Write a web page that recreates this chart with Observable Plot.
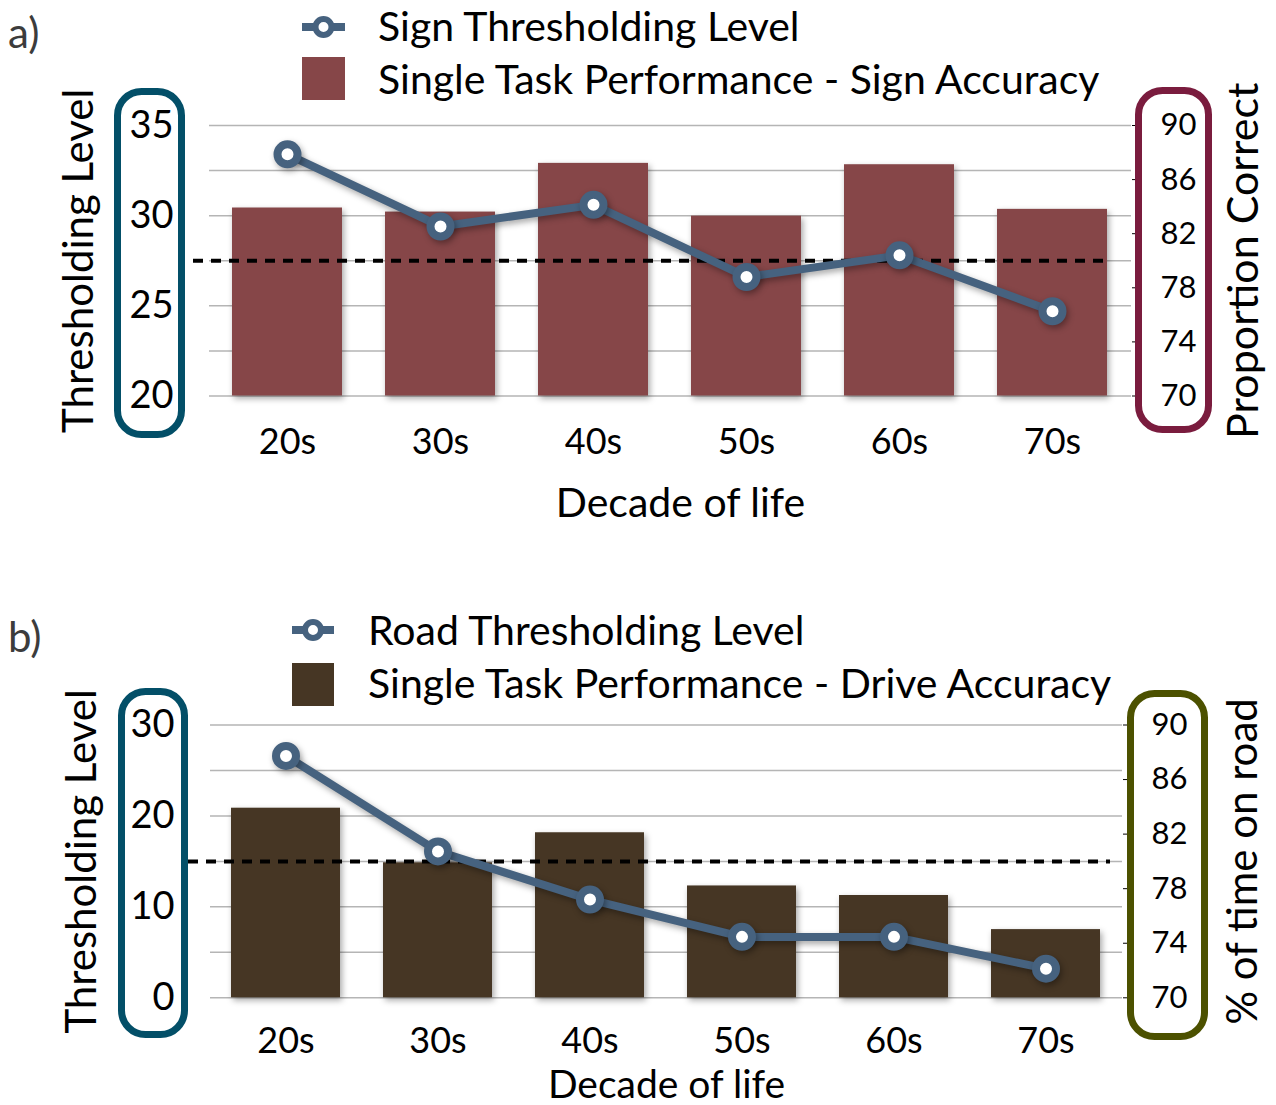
<!DOCTYPE html>
<html>
<head>
<meta charset="utf-8">
<script src="https://cdn.jsdelivr.net/npm/d3@7"></script>
<script src="https://cdn.jsdelivr.net/npm/@observablehq/plot@0.6"></script>
<style>
  body { margin: 0; background: #fff; }
  #root { position: relative; width: 1276px; height: 1105px; font-family: Lato, sans-serif; overflow: hidden; }
  #root > svg { position: absolute; left: 0; }
  #overlay { top: 0; pointer-events: none; }
  g[aria-label="bar"], g[aria-label="line"], g[aria-label="dot"] { filter: drop-shadow(2px 3px 3px rgba(0,0,0,0.35)); }
</style>
</head>
<body>
<div id="root"></div>
<script>
// ---- data ----
const decades = ["20s", "30s", "40s", "50s", "60s", "70s"];
// panel a
const signThreshold = [33.4, 29.4, 30.6, 26.6, 27.8, 24.7];      // left axis (Thresholding Level)
const signAccuracy  = [83.9, 83.6, 87.2, 83.3, 87.1, 83.8];      // right axis (Proportion Correct)
// panel b
const roadThreshold = [26.6, 16.1, 10.8, 6.7, 6.7, 3.2];         // left axis (Thresholding Level)
const driveAccuracy = [83.9, 79.9, 82.1, 78.2, 77.5, 75.0];      // right axis (% of time on road)
const referenceLevel = 80;                                       // dashed line, right axis units
const leftTicksA = [20, 25, 30, 35];
const gridTicksA = [20, 22.5, 25, 27.5, 30, 32.5, 35];
const leftTicksB = [0, 10, 20, 30];
const gridTicksB = [0, 5, 10, 15, 20, 25, 30];
const rightTicks = [70, 74, 78, 82, 86, 90];

const W = 1276;
const LINE = "#46627f";

function panel(o) {
  const [L0, L1] = o.leftDomain, [R0, R1] = o.rightDomain;
  const toLeft = v => L0 + (v - R0) * (L1 - L0) / (R1 - R0);
  const fromLeft = v => R0 + (v - L0) * (R1 - R0) / (L1 - L0);
  const rows = decades.map((d, i) => ({decade: d, thr: o.thr[i], acc: o.acc[i]}));
  const svg = Plot.plot({
    width: W,
    height: o.height,
    marginTop: o.frame.top - o.top,
    marginBottom: o.top + o.height - o.frame.bottom,
    marginLeft: o.frame.left,
    marginRight: W - o.frame.right,
    style: {fontFamily: "Lato, sans-serif", color: "#000", background: "transparent", overflow: "visible"},
    x: {domain: decades, paddingInner: 0.28, paddingOuter: 0.14},
    y: {domain: o.leftDomain},
    marks: [
      Plot.gridY(o.gridTicks, {stroke: "#b5b5b5", strokeOpacity: 1, strokeWidth: 1.5}),
      Plot.barY(rows, {x: "decade", y1: L0, y2: d => toLeft(d.acc), fill: o.barColor}),
      Plot.ruleY([toLeft(referenceLevel)], {stroke: "#000", strokeWidth: 4, strokeDasharray: "10,8", insetLeft: o.dashInsetLeft, insetRight: o.dashInsetRight}),
      Plot.line(rows, {x: "decade", y: "thr", stroke: LINE, strokeWidth: 8}),
      Plot.dot(rows, {x: "decade", y: "thr", r: 10, fill: "white", stroke: LINE, strokeWidth: 8}),
      Plot.axisY({anchor: "left", ticks: o.leftTicks, tickSize: 0, tickPadding: 36, fontSize: 38, label: null}),
      Plot.axisY({anchor: "right", ticks: rightTicks.map(toLeft), tickFormat: d => Math.round(fromLeft(d)), tickSize: 7, tickPadding: 22, fontSize: 31, label: null}),
      Plot.axisX({tickSize: 0, tickPadding: o.xTickPad, fontSize: 36, label: null}),
      Plot.text([o.leftTitle], {text: d => d, frameAnchor: "left", textAnchor: "middle", lineAnchor: "middle", rotate: -90, dx: o.leftTitleDx, fontSize: 42}),
      Plot.text([o.rightTitle], {text: d => d, frameAnchor: "right", textAnchor: "middle", lineAnchor: "middle", rotate: -90, dx: o.rightTitleDx, fontSize: o.rightTitleSize}),
      Plot.text(["Decade of life"], {text: d => d, frameAnchor: "bottom", lineAnchor: "bottom", dy: o.xTitleDy, dx: o.xTitleDx, fontSize: o.xTitleSize})
    ]
  });
  svg.style.top = o.top + "px";
  return svg;
}

const root = document.getElementById("root");

root.appendChild(panel({
  top: 0, height: 540,
  frame: {top: 125, bottom: 395.5, left: 209, right: 1131},
  leftDomain: [20, 35], rightDomain: [70, 90],
  leftTicks: leftTicksA, gridTicks: gridTicksA,
  thr: signThreshold, acc: signAccuracy, barColor: "#864648",
  dashInsetLeft: -16, dashInsetRight: 21,
  leftTitle: "Thresholding Level", leftTitleDx: -130,
  rightTitle: "Proportion Correct", rightTitleDx: 113, rightTitleSize: 43,
  xTickPad: 32, xTitleDy: 121, xTitleDx: 10, xTitleSize: 41
}));

root.appendChild(panel({
  top: 600, height: 505,
  frame: {top: 724.5, bottom: 997.3, left: 210, right: 1122},
  leftDomain: [0, 30], rightDomain: [70, 90],
  leftTicks: leftTicksB, gridTicks: gridTicksB,
  thr: roadThreshold, acc: driveAccuracy, barColor: "#463624",
  dashInsetLeft: -22, dashInsetRight: 12,
  leftTitle: "Thresholding Level", leftTitleDx: -128,
  rightTitle: "% of time on road", rightTitleDx: 121, rightTitleSize: 42,
  xTickPad: 30, xTitleDy: 100, xTitleDx: 0, xTitleSize: 39
}));

// ---- overlay: panel labels, legends, rounded frames around tick labels ----
const ov = d3.select(root).append("svg").attr("id", "overlay")
  .attr("width", W).attr("height", 1105)
  .style("font-family", "Lato, sans-serif");

ov.append("text").attr("x", 8).attr("y", 48).attr("font-size", 42).attr("fill", "#3c3c3c").text("a)");
ov.append("text").attr("x", 8).attr("y", 652).attr("font-size", 42).attr("fill", "#3c3c3c").text("b)");

function legend(x0, x1, textX, lineLabel, barLabel, barColor, yLine, yBar, base1, base2) {
  ov.append("line").attr("x1", x0).attr("x2", x1).attr("y1", yLine).attr("y2", yLine)
    .attr("stroke", LINE).attr("stroke-width", 8);
  ov.append("circle").attr("cx", (x0 + x1) / 2).attr("cy", yLine).attr("r", 8)
    .attr("fill", "#fff").attr("stroke", LINE).attr("stroke-width", 6);
  ov.append("text").attr("x", textX).attr("y", base1).attr("font-size", 41).text(lineLabel);
  ov.append("rect").attr("x", x0).attr("y", yBar).attr("width", x1 - x0).attr("height", 43).attr("fill", barColor);
  ov.append("text").attr("x", textX).attr("y", base2).attr("font-size", 41).text(barLabel);
}
legend(302, 345, 378, "Sign Thresholding Level", "Single Task Performance - Sign Accuracy", "#864648", 27, 57, 41, 94);
legend(292, 334, 368, "Road Thresholding Level", "Single Task Performance - Drive Accuracy", "#463624", 630, 663, 645, 698);

function box(x, y, w, h, color) {
  ov.append("rect").attr("x", x).attr("y", y).attr("width", w).attr("height", h)
    .attr("rx", 24).attr("fill", "none").attr("stroke", color).attr("stroke-width", 7);
}
box(117.5, 91.5, 64, 343, "#034f68");
box(1138.5, 90.5, 70, 339, "#7a1c3e");
box(121.5, 691.5, 63, 343, "#034f68");
box(1130.5, 693.5, 74, 343, "#4c5100");
</script>
</body>
</html>
